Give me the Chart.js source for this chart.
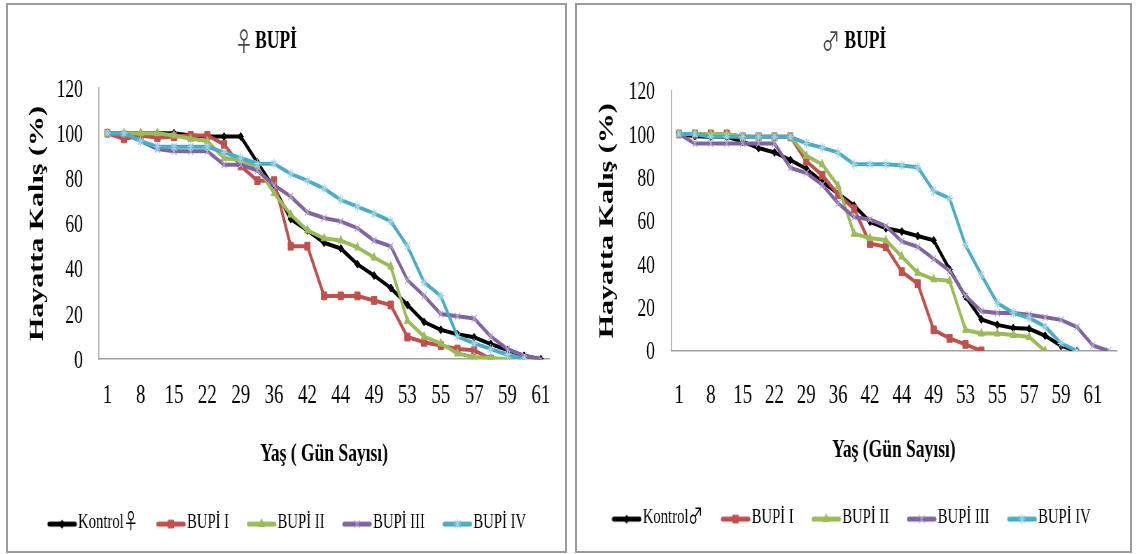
<!DOCTYPE html>
<html>
<head>
<meta charset="utf-8">
<script src="https://cdn.jsdelivr.net/npm/chart.js@4.4.0/dist/chart.umd.min.js"></script>
<style>
    @font-face {
        font-family: 'GenderSign';
        src: local('Noto Sans CJK JP'), local('Noto Sans CJK JP Regular'), local('NotoSansCJKjp-Regular');
        unicode-range: U+2640, U+2642;
    }
    body { margin: 0; background: #fff; width: 1136px; height: 554px; position: relative; overflow: hidden; }
    .frame { position: absolute; border: 2px solid #9a9a9a; box-sizing: border-box; }
    .squeeze { position: absolute; transform-origin: 0 0; transform: scaleX(0.7); }
</style>
</head>
<body>
<div class="frame" style="left:6px;top:3px;width:561px;height:550px"></div>
<div class="frame" style="left:575px;top:3px;width:557px;height:550px"></div>
<div class="squeeze" style="left:8px;top:6px"><canvas id="femaleChart" width="796" height="545"></canvas></div>
<div class="squeeze" style="left:577px;top:6px"><canvas id="maleChart" width="789" height="545"></canvas></div>

<script>
// labelled days on the x axis, every second category carries one
const tickLabels = ['1', '8', '15', '22', '29', '36', '42', '44', '49', '53', '55', '57', '59', '61'];
const seriesNames = ['BUPİ I', 'BUPİ II', 'BUPİ III', 'BUPİ IV'];

// female panel (27 categories)
const femaleKontrol = [100, 100, 100, 100, 100, 99, 98.5, 98.5, 98.5, 87, 76, 62, 57, 51.5, 49, 42, 37, 31.5, 24, 16.5, 13, 11, 9.7, 6.7, 4, 1.5, 0];
const femaleBupi1 = [100, 97.5, 99, 98, 98.5, 99, 99, 95, 85.5, 79, 79, 50, 50, 28, 28, 28, 26, 24, 9.8, 7.5, 6, 4.5, 4, 0];
const femaleBupi2 = [100, 100, 100, 100, 99, 97.5, 96.5, 89, 88, 85, 73.5, 64, 57, 53.5, 52.5, 49.5, 45, 41, 17, 10, 7, 2.5, 1, 0.5, 0];
const femaleBupi3 = [100, 100, 96.5, 93, 92, 92, 92, 86, 86, 83.5, 77, 72, 65, 62.5, 61, 58, 52.5, 50, 35, 28, 20, 19, 18, 10, 4.5, 1.5, 0];
const femaleBupi4 = [100, 100, 96.5, 94, 94, 94, 94, 91.5, 89, 86.5, 86.5, 82, 79, 75.5, 70.5, 67.5, 64.5, 61, 50, 34, 28, 10, 7, 4.5, 2, 0];

// male panel (28 categories)
const maleKontrol = [100, 99, 98.7, 98.7, 96.5, 93.5, 91.5, 88, 84, 78, 72.5, 67, 59.5, 56.5, 55, 53, 51, 37.5, 25, 14.5, 12, 10.5, 10.2, 7, 2.3, 0];
const maleBupi1 = [100, 100, 100, 100, 98.7, 98.7, 98.7, 98.7, 87.5, 81, 72, 65.5, 49.5, 48, 36.5, 31, 9.7, 5.8, 3, 0];
const maleBupi2 = [100, 100, 100, 100, 98.7, 98.7, 98.7, 98.7, 90, 86, 76, 54, 52, 51, 43.5, 36, 33, 32.3, 9.7, 8, 8, 7.3, 6.4, 0];
const maleBupi3 = [100, 95.6, 95.6, 95.6, 95.6, 95.6, 95.6, 84.4, 82, 76.6, 68, 61.7, 60.6, 57.5, 50.5, 48, 42.5, 37, 25.3, 18.3, 17.5, 17.5, 16.7, 15.5, 14.3, 11, 2.5, 0];
const maleBupi4 = [100, 100, 98.7, 98.7, 98.7, 98.7, 98.7, 98.7, 95.6, 93.7, 91.4, 86, 86, 86, 85.5, 84.7, 73.7, 70.3, 48.7, 35, 22, 17.5, 15.2, 11.2, 3.5, 0];

const lineStyles = [
    { color: '#000000', marker: 'rectRot', radius: 4, markerLine: '#000000', markerWidth: 1 },
    { color: '#C0504D', marker: 'rect', radius: 5.5, markerLine: '#C0504D', markerWidth: 1 },
    { color: '#9BBB59', marker: 'triangle', radius: 5, markerLine: '#9BBB59', markerWidth: 1 },
    { color: '#8064A2', marker: 'crossRot', radius: 5, markerLine: '#B7A6CF', markerWidth: 1.2 },
    { color: '#4BACC6', marker: 'star', radius: 5, markerLine: '#9ED3E3', markerWidth: 1.2 }
];

const textFont = "GenderSign, 'Liberation Serif'";

function makeCategories(count) {
    const cats = [];
    for (let i = 0; i < count; i++) {
        cats.push(i % 2 === 0 ? tickLabels[i / 2] : '');
    }
    return cats;
}

function legendIcon(st) {
    const c = document.createElement('canvas');
    c.width = 43;
    c.height = 16;
    const ctx = c.getContext('2d');
    ctx.strokeStyle = st.color;
    ctx.lineWidth = 5;
    ctx.lineCap = 'round';
    ctx.beginPath();
    ctx.moveTo(3, 10);
    ctx.lineTo(40, 10);
    ctx.stroke();
    ctx.fillStyle = st.color;
    ctx.strokeStyle = st.markerLine;
    ctx.lineWidth = st.markerWidth;
    if (Chart.helpers && Chart.helpers.drawPoint) {
        Chart.helpers.drawPoint(ctx, { pointStyle: st.marker, radius: st.radius, rotation: 0, borderWidth: st.markerWidth }, 21.5, 10);
    }
    return c;
}

const legendIcons = lineStyles.map(legendIcon);

const panelTitle = {
    id: 'panelTitle',
    afterDraw(chart, args, opts) {
        const ctx = chart.ctx;
        ctx.save();
        ctx.textBaseline = 'alphabetic';
        ctx.textAlign = 'center';
        ctx.fillStyle = '#444';
        ctx.font = "26px 'Noto Sans CJK JP'";
        ctx.fillText(opts.symbol, opts.symbolX, opts.baseline + 3);
        ctx.textAlign = 'left';
        ctx.fillStyle = '#000';
        ctx.font = "bold 25px 'Liberation Serif'";
        ctx.fillText('BUPİ', opts.textX, opts.baseline);
        ctx.restore();
    }
};

function buildPanel(canvasId, p) {
    const datasets = p.values.map((data, i) => ({
        label: i === 0 ? 'Kontrol' + p.symbol : seriesNames[i - 1],
        data,
        borderColor: lineStyles[i].color,
        backgroundColor: lineStyles[i].color,
        borderWidth: 4,
        pointStyle: lineStyles[i].marker,
        pointRadius: lineStyles[i].radius,
        pointBackgroundColor: lineStyles[i].color,
        pointBorderColor: lineStyles[i].markerLine,
        pointBorderWidth: lineStyles[i].markerWidth,
        tension: 0,
        order: 5 - i
    }));

    return new Chart(document.getElementById(canvasId), {
        type: 'line',
        data: { labels: makeCategories(p.count), datasets },
        plugins: [panelTitle],
        options: {
            responsive: false,
            animation: false,
            events: [],
            layout: { padding: p.padding },
            plugins: {
                tooltip: { enabled: false },
                panelTitle: { symbol: p.symbol, symbolX: p.symbolX, textX: p.textX, baseline: 42 },
                legend: {
                    position: 'bottom',
                    labels: {
                        usePointStyle: true,
                        pointStyleWidth: 24.8,
                        padding: 34,
                        color: '#000',
                        font: { family: textFont, size: 21 },
                        sort: (a, b) => a.datasetIndex - b.datasetIndex,
                        generateLabels: chart => Chart.defaults.plugins.legend.labels.generateLabels(chart)
                            .map(item => ({ ...item, pointStyle: legendIcons[item.datasetIndex] }))
                    }
                }
            },
            scales: {
                x: {
                    offset: true,
                    grid: { display: false, drawTicks: false },
                    border: { display: true, color: '#a0a0a0', width: 1.5 },
                    ticks: {
                        autoSkip: false,
                        maxRotation: 0,
                        padding: p.xTickPad,
                        color: '#000',
                        font: { family: 'Liberation Serif', size: 27 }
                    },
                    title: {
                        display: true,
                        text: p.xTitle,
                        color: '#000',
                        font: { family: 'Liberation Serif', size: 25, weight: 'bold' },
                        padding: { top: 0, bottom: p.xTitlePad }
                    },
                    afterFit: scale => { scale.height = p.xAxisHeight; }
                },
                y: {
                    min: 0,
                    max: 120,
                    grid: { display: false, drawTicks: false },
                    border: { display: true, color: '#a0a0a0', width: 1.5 },
                    ticks: {
                        stepSize: 20,
                        padding: 23,
                        labelOffset: 2,
                        color: '#000',
                        font: { family: 'Liberation Serif', size: 25 }
                    },
                    title: {
                        display: true,
                        text: 'Hayatta Kalış (%)',
                        color: '#000',
                        font: { family: 'Liberation Serif', size: 30, weight: 'bold', lineHeight: 1 },
                        padding: { top: p.yTitlePad, bottom: 0 }
                    },
                    afterFit: scale => { scale.width = p.yAxisWidth; }
                }
            }
        }
    });
}

function drawPanels() {
    buildPanel('femaleChart', {
        count: 27,
        symbol: '♀',
        values: [femaleKontrol, femaleBupi1, femaleBupi2, femaleBupi3, femaleBupi4],
        xTitle: 'Yaş ( Gün Sayısı)',
        padding: { left: 27.8, right: 18.9, top: 82, bottom: 8.4 },
        yAxisWidth: 102.2,
        xAxisHeight: 118.4,
        xTickPad: 21,
        xTitlePad: 8.4,
        yTitlePad: -0.8,
        symbolX: 337,
        textX: 353
    });

    buildPanel('maleChart', {
        count: 28,
        symbol: '♂',
        values: [maleKontrol, maleBupi1, maleBupi2, maleBupi3, maleBupi4],
        xTitle: 'Yaş (Gün Sayısı)',
        padding: { left: 16.8, right: 13.3, top: 84.6, bottom: 13.4 },
        yAxisWidth: 117.5,
        xAxisHeight: 121.7,
        xTickPad: 29.1,
        xTitlePad: 7.4,
        yTitlePad: 11.8,
        symbolX: 362.5,
        textX: 382
    });
}

document.fonts.load("21px GenderSign", '♀♂')
    .catch(() => null)
    .then(drawPanels);
</script>
</body>
</html>
